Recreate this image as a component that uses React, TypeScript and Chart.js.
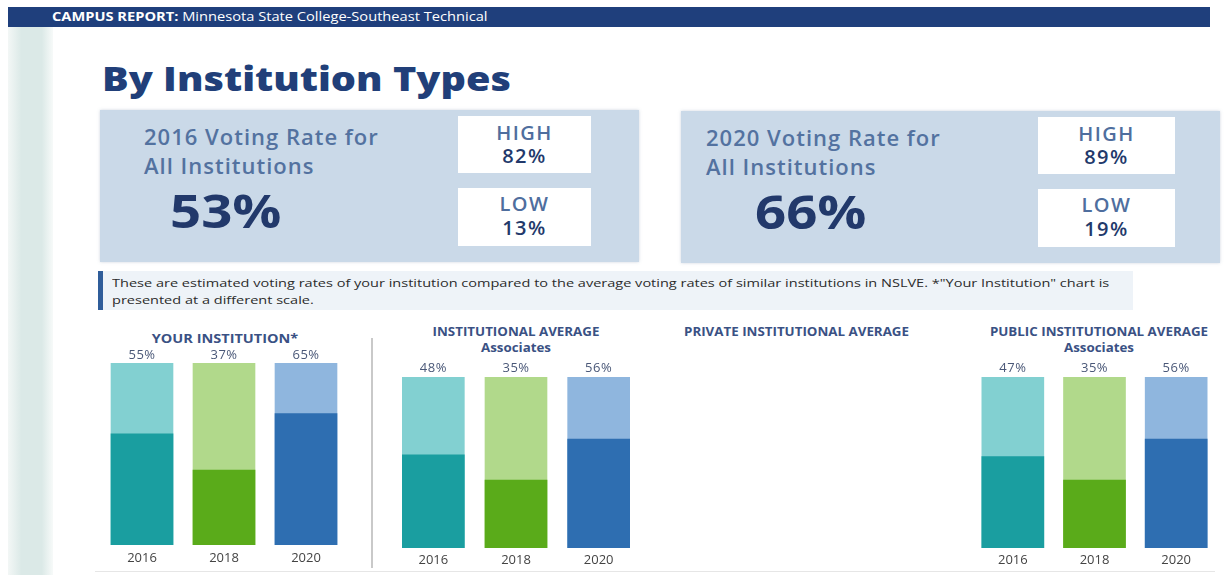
import React, { useEffect, useRef } from "react";
import { Chart, registerables } from "chart.js";

Chart.register(...registerables);

// ---- Data ----
const years = ["2016", "2018", "2020"];
const yourInstitution = [55, 37, 65];
const institutionalAverage = [48, 35, 56];
const publicAverage = [47, 35, 56];
const yourScaleFull = [90, 90, 90];
const averageScaleFull = [88, 88, 88];

const stats2016 = { rate: "53%", high: "82%", low: "13%" };
const stats2020 = { rate: "66%", high: "89%", low: "19%" };

const darkColors = ["#1a9ea0", "#5aab1a", "#2e6eb1"];
const lightColors = ["#82d0d1", "#b1d98b", "#8fb6de"];

const NAVY = "#22396b";
const MUTED = "#4f6e9e";
const FONT = "'Open Sans', sans-serif";

type BarChartProps = {
  values: number[];
  full: number[];
  left: number;
  top: number;
  width: number;
  height: number;
  padLeft: number;
  padTop: number;
  labelOffset: number;
  tickPad: number;
};

const valueLabelPlugin = {
  id: "valueLabels",
  afterDatasetsDraw(chart: any, _args: any, opts: any) {
    const ctx = chart.ctx;
    const meta = chart.getDatasetMeta(0);
    const vals = chart.data.datasets[1].data as number[];
    ctx.save();
    ctx.font = `13px ${FONT}`;
    try {
      (ctx as any).letterSpacing = "0.5px";
    } catch (e) {}
    ctx.fillStyle = "#4a5878";
    ctx.textAlign = "center";
    ctx.textBaseline = "middle";
    meta.data.forEach((el: any, i: number) => {
      ctx.fillText(`${vals[i]}%`, el.x, el.y - (opts.offset || 8));
    });
    ctx.restore();
  },
};

function BarChart(p: BarChartProps) {
  const ref = useRef<HTMLCanvasElement | null>(null);
  useEffect(() => {
    if (!ref.current) return;
    const max = p.full[0];
    const chart = new Chart(ref.current, {
      type: "bar",
      data: {
        labels: years,
        datasets: [
          {
            label: "scale",
            data: p.full,
            backgroundColor: lightColors,
            barThickness: 62,
            grouped: false,
            order: 2,
          },
          {
            label: "rate",
            data: p.values,
            backgroundColor: darkColors,
            barThickness: 62,
            grouped: false,
            order: 1,
          },
        ],
      },
      options: {
        responsive: false,
        animation: false,
        layout: { padding: { left: p.padLeft, right: p.padLeft, top: p.padTop, bottom: 0 } },
        plugins: {
          legend: { display: false },
          tooltip: { enabled: false },
          title: { display: false },
          valueLabels: { offset: p.labelOffset },
        } as any,
        scales: {
          x: {
            grid: { display: false, drawTicks: false },
            border: { display: false },
            ticks: { padding: p.tickPad, color: "#444", font: { size: 13, family: FONT } },
            afterFit: (scale: any) => {
              scale.height = 26;
            },
          },
          y: {
            display: false,
            min: 0,
            max: max,
          },
        },
      },
      plugins: [valueLabelPlugin],
    });
    return () => chart.destroy();
  }, []);
  return (
    <canvas
      ref={ref}
      width={p.width}
      height={p.height}
      style={{ position: "absolute", left: p.left, top: p.top, width: p.width, height: p.height }}
    />
  );
}

function StatBox(props: { left: number; top: number; year: string; stats: { rate: string; high: string; low: string }; rateLeft: number; hlLeft: number; hlWidth: number; textLeft: number }) {
  const { left, top, year, stats } = props;
  return (
    <div
      style={{
        position: "absolute",
        left,
        top,
        width: 539,
        height: 152,
        background: "#cad9e8",
        boxShadow: "0 0 3px rgba(120,140,170,0.35)",
      }}
    >
      <div
        style={{
          position: "absolute",
          left: props.textLeft,
          top: 12,
          fontSize: 22,
          fontWeight: 600,
          lineHeight: "29px",
          letterSpacing: 1,
          color: "#5372a0",
          fontFamily: FONT,
          whiteSpace: "nowrap",
        }}
      >
        {year} Voting Rate for
        <br />
        All Institutions
      </div>
      <div
        style={{
          position: "absolute",
          left: props.rateLeft,
          top: 68,
          fontSize: 47,
          fontWeight: 700,
          color: NAVY,
          fontFamily: FONT,
          lineHeight: "64px",
          transform: "scaleX(1.16)",
          transformOrigin: "left center",
        }}
      >
        {stats.rate}
      </div>
      <div
        style={{
          position: "absolute",
          left: props.hlLeft,
          top: 6,
          width: props.hlWidth,
          height: 57,
          background: "#fff",
          textAlign: "center",
          fontFamily: FONT,
          fontWeight: 600,
          fontSize: 20,
          letterSpacing: 1.5,
          lineHeight: "23px",
          paddingTop: 5,
          boxSizing: "border-box",
        }}
      >
        <div style={{ color: MUTED }}>HIGH</div>
        <div style={{ color: NAVY }}>{stats.high}</div>
      </div>
      <div
        style={{
          position: "absolute",
          left: props.hlLeft,
          top: 78,
          width: props.hlWidth,
          height: 58,
          background: "#fff",
          textAlign: "center",
          fontFamily: FONT,
          fontWeight: 600,
          fontSize: 20,
          letterSpacing: 1.5,
          lineHeight: "24px",
          paddingTop: 4,
          boxSizing: "border-box",
        }}
      >
        <div style={{ color: MUTED }}>LOW</div>
        <div style={{ color: NAVY }}>{stats.low}</div>
      </div>
    </div>
  );
}

const chartTitle: React.CSSProperties = {
  position: "absolute",
  fontFamily: FONT,
  fontWeight: 700,
  fontSize: 11.5,
  color: "#3a5184",
  textAlign: "center",
  lineHeight: "16px",
  whiteSpace: "nowrap",
  transform: "scaleX(1.16)",
};

export default function App() {
  return (
    <div
      style={{
        position: "absolute",
        left: 0,
        top: 0,
        width: 1224,
        height: 575,
        background: "#ffffff",
        overflow: "hidden",
        fontFamily: FONT,
      }}
    >
      {/* left pale strip */}
      <div
        style={{
          position: "absolute",
          left: 8,
          top: 27,
          width: 45,
          height: 548,
          background: "linear-gradient(to right, #f3f7f6 0%, #dbe9e7 30%, #dbe9e7 75%, #f7faf9 100%)",
        }}
      />
      {/* header bar */}
      <div
        style={{
          position: "absolute",
          left: 8,
          top: 7,
          width: 1202,
          height: 20,
          background: "#1f3f7c",
        }}
      />
      <div
        style={{
          position: "absolute",
          left: 52,
          top: 7,
          height: 20,
          color: "#ffffff",
          fontSize: 12,
          lineHeight: "20px",
          fontFamily: FONT,
          whiteSpace: "nowrap",
          transform: "scaleX(1.22)",
          transformOrigin: "left center",
        }}
      >
        <b>CAMPUS REPORT:</b> Minnesota State College-Southeast Technical
      </div>
      {/* title */}
      <div
        style={{
          position: "absolute",
          left: 102,
          top: 56,
          fontSize: 33,
          fontWeight: 800,
          color: "#213f79",
          fontFamily: FONT,
          lineHeight: "46px",
          whiteSpace: "nowrap",
          transform: "scaleX(1.2)",
          transformOrigin: "left center",
        }}
      >
        By Institution Types
      </div>

      <StatBox left={100} top={110} year="2016" stats={stats2016} rateLeft={70} hlLeft={358} hlWidth={133} textLeft={44} />
      <StatBox left={681} top={111} year="2020" stats={stats2020} rateLeft={74} hlLeft={357} hlWidth={137} textLeft={25} />

      {/* note */}
      <div style={{ position: "absolute", left: 98, top: 271, width: 5, height: 39, background: "#2f5d9a" }} />
      <div
        style={{
          position: "absolute",
          left: 103,
          top: 271,
          width: 1030,
          height: 39,
          background: "#eef3f8",
        }}
      />
      <div
        style={{
          position: "absolute",
          left: 112,
          top: 274,
          fontSize: 11,
          lineHeight: "17px",
          color: "#2b2b2b",
          fontFamily: FONT,
          whiteSpace: "nowrap",
          transform: "scaleX(1.32)",
          transformOrigin: "left top",
        }}
      >
        These are estimated voting rates of your institution compared to the average voting rates of similar institutions in NSLVE. *"Your Institution" chart is
        <br />
        presented at a different scale.
      </div>

      {/* chart titles */}
      <div style={{ ...chartTitle, left: 125, width: 200, top: 331, fontSize: 12.5 }}>YOUR INSTITUTION*</div>
      <div style={{ ...chartTitle, left: 416, width: 200, top: 324 }}>
        INSTITUTIONAL AVERAGE
        <br />
        Associates
      </div>
      <div style={{ ...chartTitle, left: 684, top: 324, textAlign: "left", transformOrigin: "left center" }}>PRIVATE INSTITUTIONAL AVERAGE</div>
      <div style={{ ...chartTitle, left: 999, width: 200, top: 324 }}>
        PUBLIC INSTITUTIONAL AVERAGE
        <br />
        Associates
      </div>

      {/* divider */}
      <div style={{ position: "absolute", left: 371, top: 338, width: 2, height: 230, background: "#c9c9c9" }} />
      <div style={{ position: "absolute", left: 95, top: 571, width: 1120, height: 1, background: "#e6e6e6" }} />

      <BarChart values={yourInstitution} full={yourScaleFull} left={95} top={345} width={258} height={226} padLeft={6} padTop={18} labelOffset={8} tickPad={5} />
      <BarChart values={institutionalAverage} full={averageScaleFull} left={386} top={360} width={260} height={214} padLeft={6} padTop={17} labelOffset={9} tickPad={4} />
      <BarChart values={publicAverage} full={averageScaleFull} left={966} top={360} width={257} height={214} padLeft={6} padTop={17} labelOffset={9} tickPad={4} />
    </div>
  );
}
